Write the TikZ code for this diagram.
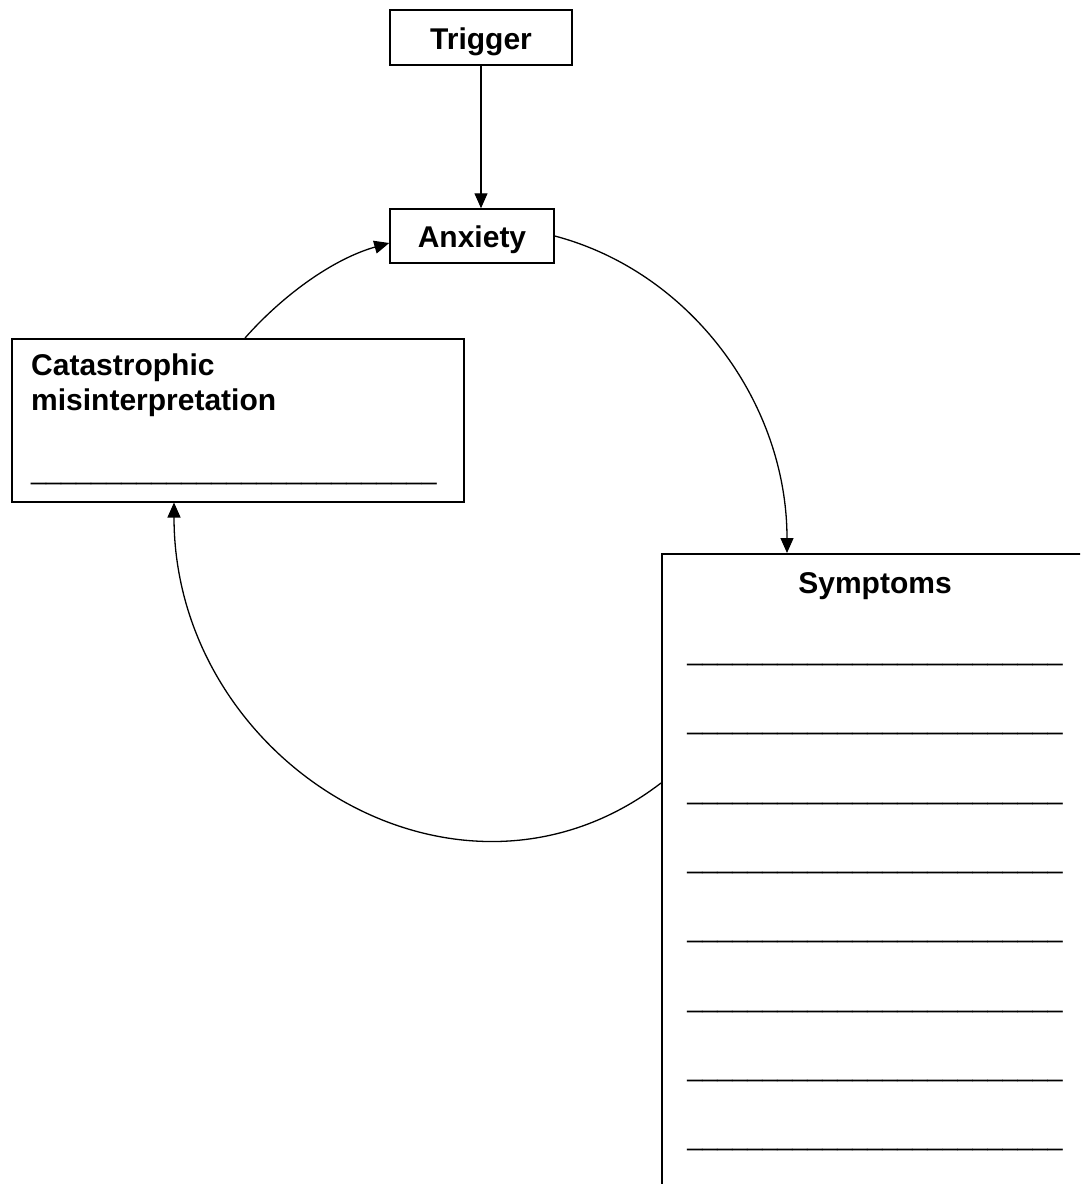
\documentclass[tikz,border=0pt]{standalone}
\usepackage{fontspec}
\setmainfont{Liberation Sans}
\usetikzlibrary{arrows.meta,calc}
\newcommand\fiveusc{\_\_\_\_\_}
\begin{document}
\begin{tikzpicture}[x=1pt,y=-1pt,
  box/.style={draw, line width=1.5pt, inner sep=0pt},
  lbl/.style={font=\fontsize{30}{35}\selectfont\bfseries, inner sep=0pt},
  uline/.style={font=\fontsize{27}{30}\selectfont, inner sep=0pt},
  conn/.style={line width=1.3pt, -{Triangle[length=15pt,width=13pt]}}]
\fill[white] (0,0) rectangle (1080,1184);
\path[use as bounding box] (0,0) rectangle (1080,1184);
\clip (0,0) rectangle (1080,1184);

% boxes
\node[box, lbl, text height=23pt, text depth=0pt, minimum width=182pt, minimum height=55pt] (trig) at (481,37.5) {Trigger};
\node[box, lbl, text height=23pt, text depth=0pt, minimum width=164pt, minimum height=54pt] (anx) at (472,236) {Anxiety};
\node[box, minimum width=452pt, minimum height=163pt, anchor=north west] (cat) at (11,338) {};
\node[box, minimum width=429pt, minimum height=700pt, anchor=north west] (sym) at (661,553) {};

% texts
\node[lbl, anchor=base west] (cat1) at (31,375) {Catastrophic};
\node[lbl, anchor=base west] (cat2) at (31,410) {misinterpretation};
\node[uline, anchor=base west] (catline) at (31,479.5) {\fiveusc\fiveusc\fiveusc\fiveusc\fiveusc\_\_};
\node[lbl, anchor=base] (symt) at (875,593) {Symptoms};
\foreach \i in {0,...,7}
  \node[uline, anchor=base] (sl\i) at (875,{660.5+69.3*\i}) {\fiveusc\fiveusc\fiveusc\fiveusc\fiveusc};

% connectors
\draw[conn] (trig.south) -- (trig.south |- anx.north);
\draw[conn] (anx.east) .. controls (691,272) and (787,403) .. ($(sym.north west)+(126,0)$);
\draw[conn] ($(sym.north west)+(0,230)$) .. controls (459,938) and (174,763) .. ($(cat.south west)+(163,0)$);
\draw[conn] ($(cat.north west)+(234,0)$) .. controls (283,295) and (333,259) .. ($(anx.west)+(0,7)$);
\end{tikzpicture}
\end{document}
